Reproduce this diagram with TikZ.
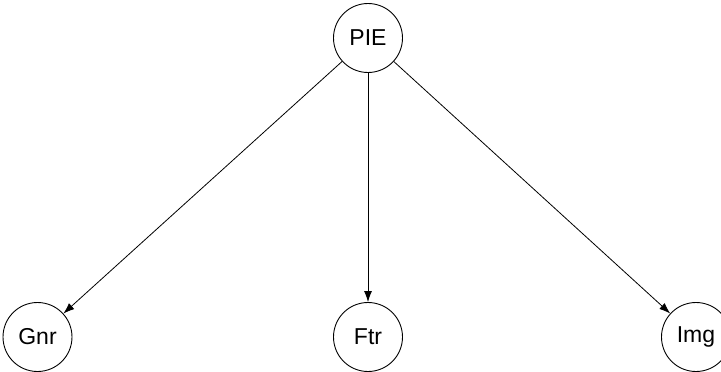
\documentclass[tikz,border=0pt]{standalone}
\usepackage{fontspec}
\setmainfont{Liberation Sans}
\usetikzlibrary{arrows.meta}
\begin{document}
\begin{tikzpicture}[x=1pt,y=-1pt,
  vnode/.style={draw,circle,line width=0.9pt,minimum size=69pt,inner sep=0pt,font=\fontsize{23}{26}\selectfont},
  edge/.style={-{Latex[length=11pt,width=8pt]},line width=0.8pt}]
\useasboundingbox (0,0) rectangle (721,372);
\node[vnode] (pie) at (368,38) {PIE};
\node[vnode] (gnr) at (37.5,337) {Gnr};
\node[vnode] (ftr) at (368,337) {Ftr};
\node[vnode] (img) at (696,337) {Img};
\draw[edge] (pie) -- (gnr);
\draw[edge] (pie) -- (ftr);
\draw[edge] (pie) -- (img);
\end{tikzpicture}
\end{document}
